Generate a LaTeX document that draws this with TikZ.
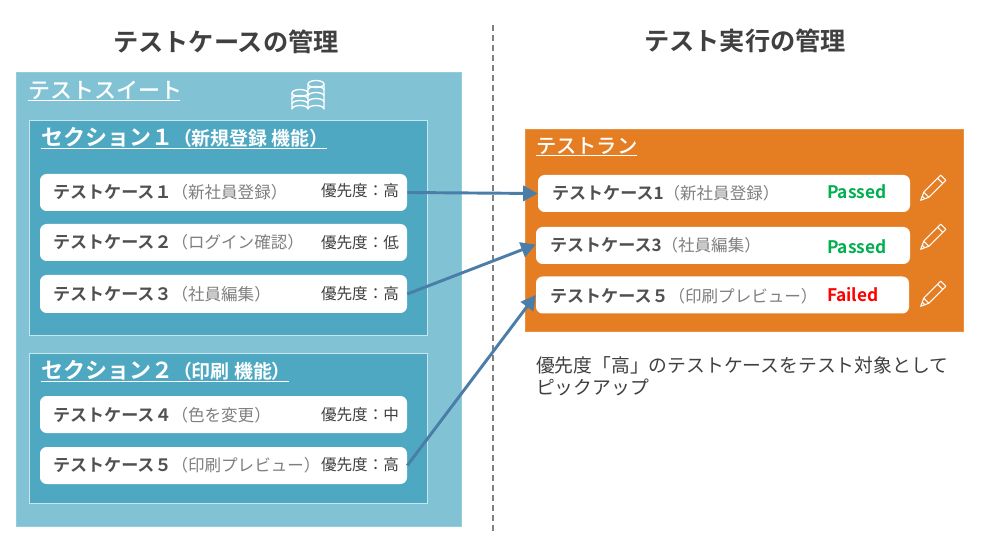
\documentclass[tikz,border=0pt]{standalone}
\usepackage{fontspec}
\setmainfont[BoldFont={Noto Sans CJK JP Medium}]{Noto Sans CJK JP}
\newfontfamily\heavy[BoldFont={Noto Sans CJK JP Bold}]{Noto Sans CJK JP}
\usetikzlibrary{arrows.meta}
\definecolor{suitec}{HTML}{81C3D4}
\definecolor{sectc}{HTML}{4EA8C1}
\definecolor{runc}{HTML}{E57E22}
\definecolor{arrowc}{HTML}{4A7DA8}
\definecolor{darkt}{HTML}{404040}
\definecolor{caset}{HTML}{505050}
\definecolor{greyt}{HTML}{7F7F7F}
\definecolor{passc}{HTML}{00B050}
\definecolor{failc}{HTML}{FF0000}
\newcommand{\fsz}[1]{\fontsize{#1}{#1}\selectfont}
\newcommand{\tcase}[2]{{\heavy\bfseries\color{caset}#1}{\fsz{12.4}\color{greyt}#2}}
\tikzset{
  x=0.75pt,y=-0.75pt,
  suitebox/.style={fill=suitec,draw=suitec!85!white,line width=0.5pt},
  sectbox/.style={fill=sectc,draw=white!70!sectc,line width=0.75pt},
  runbox/.style={fill=runc,draw=runc!85!white,line width=0.5pt},
  cardbox/.style={fill=white,rounded corners=5pt,draw=none,inner sep=0pt},
  txt/.style={inner sep=0pt,outer sep=0pt,anchor=west,text height=0.8em,text depth=0.12em},
  heading/.style={txt,anchor=center,font=\fsz{18.9}\heavy\bfseries,text=darkt},
  boxtitle/.style={txt,font=\fsz{16.5}\bfseries,text=white},
  casetext/.style={txt,font=\fsz{12.8}},
  prio/.style={txt,font=\fsz{11.7},text=darkt},
  status/.style={txt,font=\fsz{13}\heavy\bfseries},
  flow/.style={draw=arrowc,line width=2.2pt,-{Triangle[length=11pt,width=11.5pt]}},
  rule/.style={draw=white,line width=0.6pt},
  sep/.style={draw=gray,line width=0.8pt,dash pattern=on 4.5pt off 3pt},
  iconw/.style={draw=white,line width=1pt,line join=round},
  penw/.style={draw=white,line width=0.8pt,line join=round},
  pencil/.pic={
    \draw[penw,rotate=-45] (-3.6,-16) rectangle (3.6,8) (-3.6,-11.5) -- (3.6,-11.5)
      (-3.6,8) -- (0,16) -- (3.6,8) (-1.8,12) -- (1.8,12);
  },
}
\begin{document}
\begin{tikzpicture}
\useasboundingbox (0,0) rectangle (1000,552);
\fill[white] (0,0) rectangle (1000,552);
% headings
\node[heading] (h1) at (226,47) {テストケースの管理};
\node[heading] (h2) at (745,46) {テスト実行の管理};
\coordinate (sepT) at (493,25);
\coordinate (sepB) at (493,533);
\draw[sep] (sepT) -- (sepB);
% suite
\fill[suitebox] (16,72) rectangle (461,526);
\node[boxtitle] (suiteT) at (28,94) {テストスイート};
\draw[rule] (28,100.5) -- (180,100.5);
% coins
\draw[iconw] (308,84) -- (308,109) arc[start angle=180,end angle=360,x radius=8,y radius=3.5] -- (324,84);
\foreach \cy in {90,96,102}{\draw[iconw] (308,\cy) arc[start angle=180,end angle=360,x radius=8,y radius=3.5];}
\draw[iconw] (316,84) ellipse[x radius=8,y radius=3.5];
\draw[iconw] (292,93) -- (292,109) arc[start angle=180,end angle=360,x radius=8,y radius=3.5];
\foreach \cy in {99,104}{\draw[iconw] (292,\cy) arc[start angle=180,end angle=360,x radius=8,y radius=3.5];}
\draw[iconw] (300,93) ellipse[x radius=8,y radius=3.5];
% sections
\draw[sectbox] (29,121) rectangle (427,336);
\draw[sectbox] (29,354) rectangle (427,503);
\node[txt,text=white] (s1T) at (41,141) {\heavy\bfseries\fsz{16.5}セクション１\fsz{14.2}（新規登録 機能）};
\draw[rule] (40.5,148.5) -- (327,148.5);
\node[txt,text=white] (s2T) at (41,374) {\heavy\bfseries\fsz{16.5}セクション２\fsz{14.2}（印刷 機能）};
\draw[rule] (40.5,381.5) -- (289,381.5);
% left cards
\node[cardbox,minimum width=367*0.75pt,minimum height=37*0.75pt] (c1) at (223.5,192.5) {};
\node[cardbox,minimum width=367*0.75pt,minimum height=37*0.75pt] (c2) at (223.5,242.5) {};
\node[cardbox,minimum width=367*0.75pt,minimum height=38*0.75pt] (c3) at (223.5,294) {};
\node[cardbox,minimum width=367*0.75pt,minimum height=37*0.75pt] (c4) at (223.5,414.5) {};
\node[cardbox,minimum width=367*0.75pt,minimum height=37*0.75pt] (c5) at (223.5,465.5) {};
\node[casetext] (t1) at (53,193.5) {\tcase{テストケース１}{（新社員登録）}};
\node[casetext] (t2) at (53,243.5) {\tcase{テストケース２}{（ログイン確認）}};
\node[casetext] (t3) at (53,295.5) {\tcase{テストケース３}{（社員編集）}};
\node[casetext] (t4) at (53,416.5) {\tcase{テストケース４}{（色を変更）}};
\node[casetext] (t5) at (53,466.5) {\tcase{テストケース５}{（印刷プレビュー）}};
\node[prio] (p1) at (321,192) {優先度：高};
\node[prio] (p2) at (321,244) {優先度：低};
\node[prio] (p3) at (321,295) {優先度：高};
\node[prio] (p4) at (321,416) {優先度：中};
\node[prio] (p5) at (321,466) {優先度：高};
% run
\fill[runbox] (525,129) rectangle (963,331);
\node[boxtitle,font=\fsz{15.2}\bfseries] (runT) at (536,148.5) {テストラン};
\draw[rule] (536,155.5) -- (637,155.5);
\node[cardbox,minimum width=372*0.75pt,minimum height=37*0.75pt] (r1) at (724,193.5) {};
\node[cardbox,minimum width=374*0.75pt,minimum height=37*0.75pt] (r2) at (723,245.5) {};
\node[cardbox,minimum width=373*0.75pt,minimum height=37*0.75pt] (r3) at (722.5,295) {};
\node[casetext] (u1) at (552,194.5) {\tcase{テストケース1}{（新社員登録）}};
\node[casetext] (u2) at (550,246.5) {\tcase{テストケース3}{（社員編集）}};
\node[casetext] (u3) at (550,297.5) {\tcase{テストケース５}{（印刷プレビュー）}};
\node[status,text=passc] (st1) at (827,194) {Passed};
\node[status,text=passc] (st2) at (827,249) {Passed};
\node[status,text=failc] (st3) at (827,297) {Failed};
\pic at (932,189) {pencil};
\pic at (932,238) {pencil};
\pic at (932,295) {pencil};
% note
\node[txt,font=\fsz{14.1},text=darkt,anchor=north west,text height=,text depth=,align=left] (note) at (536,356.5)
  {優先度「高」のテストケースをテスト対象として\\[2.2pt]ピックアップ};
% arrows
\draw[flow] (c1.east) -- (r1.west);
\draw[flow] (c3.east) -- ([yshift=0.75pt]r2.west);
\draw[flow] (c5.east) -- (r3.west);
\end{tikzpicture}
\end{document}
